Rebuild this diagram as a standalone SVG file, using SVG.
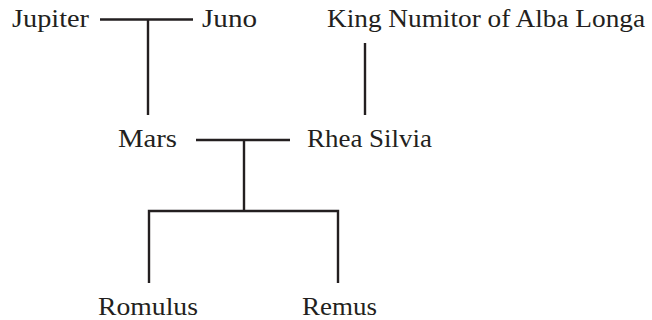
<svg xmlns="http://www.w3.org/2000/svg" width="652" height="320" viewBox="0 0 652 320">
<style>
text{font-family:"Liberation Serif","Times New Roman","DejaVu Serif",serif;font-size:26px;fill:#231f20}
.c{stroke:#231f20;stroke-width:2.4;fill:none}
</style>
<rect width="652" height="320" fill="#fff"/>
<g id="connectors">
<path class="c" d="M100 19.5H193M148 19.5V115"/>
<path class="c" d="M365 43V115"/>
<path class="c" d="M196 140H290M244 140V211"/>
<path class="c" d="M149 283V211H338V283"/>
</g>
<g id="jupiter"><text x="12" y="27" textLength="77" lengthAdjust="spacingAndGlyphs">Jupiter</text></g>
<g id="juno"><text x="202" y="27" textLength="55" lengthAdjust="spacingAndGlyphs">Juno</text></g>
<g id="numitor"><text x="327" y="27" textLength="318" lengthAdjust="spacingAndGlyphs">King Numitor of Alba Longa</text></g>
<g id="mars"><text x="118" y="147" textLength="59" lengthAdjust="spacingAndGlyphs">Mars</text></g>
<g id="rhea"><text x="307" y="147" textLength="125" lengthAdjust="spacingAndGlyphs">Rhea Silvia</text></g>
<g id="romulus"><text x="98" y="315" textLength="100" lengthAdjust="spacingAndGlyphs">Romulus</text></g>
<g id="remus"><text x="302" y="315" textLength="75" lengthAdjust="spacingAndGlyphs">Remus</text></g>
</svg>
